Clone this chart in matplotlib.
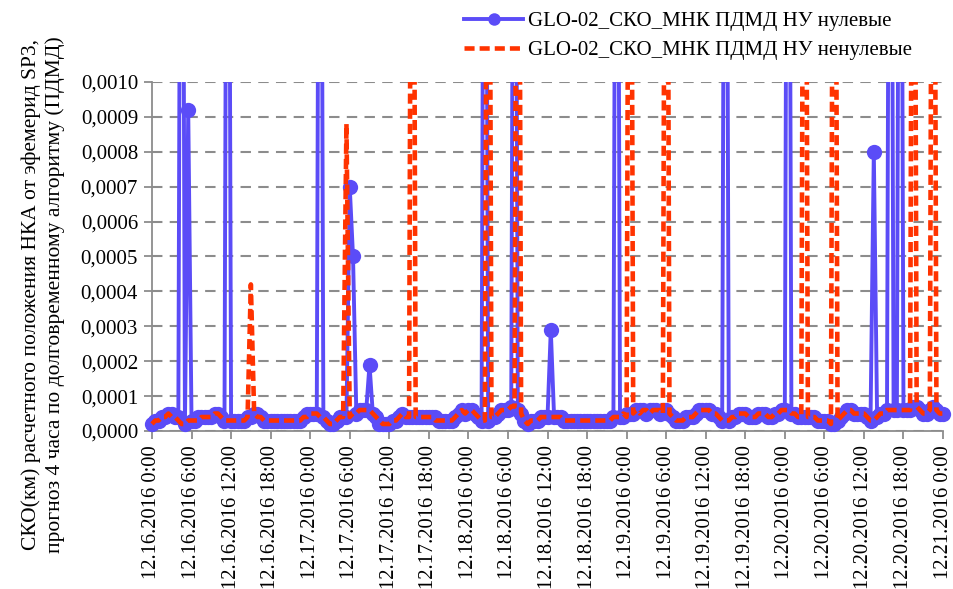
import numpy as np
import matplotlib
matplotlib.use("Agg")
import matplotlib.pyplot as plt
from matplotlib.patches import Rectangle

plt.rcParams['font.family'] = 'serif'
plt.rcParams['font.serif'] = ['Liberation Serif', 'DejaVu Serif']

# values in units of 1e-5 km, one point every 30 minutes starting 12.16.2016 0:00
# (values above 100 run off the top of the chart)
blue_e5 = [
    2, 3, 3, 4, 4, 5, 5, 4, 4, 300, 2, 92,
    3, 3, 4, 4, 4, 4, 4, 5, 5, 4, 3, 300,
    3, 3, 3, 3, 3, 4, 4, 5, 5, 4, 3, 3,
    3, 3, 3, 3, 3, 3, 3, 3, 3, 3, 4, 5,
    5, 5, 5, 300, 4, 3, 2, 2, 3, 4, 4, 4,
    70, 50, 5, 6, 6, 6, 19, 5, 4, 2, 2, 2,
    2, 3, 3, 4, 5, 4, 4, 4, 4, 4, 4, 4,
    4, 4, 4, 3, 3, 3, 3, 3, 4, 5, 6, 5,
    6, 6, 5, 4, 3, 300, 3, 4, 4, 5, 6, 6,
    6, 7, 300, 6, 5, 3, 2, 3, 3, 3, 4, 4,
    4, 29, 4, 4, 4, 3, 3, 3, 3, 3, 3, 3,
    3, 3, 3, 3, 3, 3, 3, 3, 4, 300, 4, 4,
    5, 5, 5, 6, 6, 6, 5, 6, 6, 6, 5, 6,
    6, 5, 4, 3, 3, 3, 4, 4, 4, 5, 6, 6,
    6, 6, 5, 5, 4, 3, 300, 3, 4, 4, 5, 5,
    5, 4, 4, 4, 5, 5, 5, 4, 4, 5, 5, 6,
    6, 300, 5, 5, 4, 4, 4, 4, 4, 4, 3, 3,
    3, 3, 2, 2, 3, 4, 5, 6, 6, 5, 5, 5,
    5, 4, 3, 80, 4, 5, 5, 6, 300, 6, 6, 300,
    6, 6, 6, 7, 7, 6, 5, 5, 6, 7, 6, 5,
    5,
]
red_e5 = [
    2, 3, 3, 4, 4, 5, 4, 4, 3, 2, 2, 3,
    3, 3, 3, 4, 4, 4, 4, 5, 5, 4, 3, 3,
    3, 3, 3, 3, 3, 4, 42, 5, 4, 4, 3, 3,
    3, 3, 3, 3, 3, 3, 3, 3, 3, 3, 4, 4,
    5, 5, 5, 4, 4, 3, 2, 2, 3, 4, 4, 88,
    4, 5, 5, 6, 6, 6, 6, 5, 4, 3, 2, 2,
    2, 3, 3, 4, 5, 4, 4, 300, 4, 4, 4, 4,
    4, 4, 3, 3, 3, 3, 3, 3, 4, 5, 6, 5,
    6, 6, 5, 4, 3, 3, 300, 4, 4, 5, 6, 6,
    6, 7, 7, 300, 5, 3, 2, 3, 3, 3, 4, 4,
    4, 4, 4, 4, 4, 3, 3, 3, 3, 3, 3, 3,
    3, 3, 3, 3, 3, 3, 3, 3, 4, 4, 4, 5,
    4, 300, 5, 6, 5, 6, 6, 5, 6, 6, 6, 5,
    300, 5, 4, 3, 3, 3, 4, 4, 4, 5, 6, 6,
    6, 6, 5, 5, 4, 3, 3, 3, 4, 4, 5, 5,
    5, 4, 4, 4, 5, 5, 5, 4, 4, 5, 5, 6,
    6, 6, 5, 5, 4, 4, 300, 4, 4, 4, 3, 3,
    3, 3, 2, 300, 3, 4, 5, 6, 6, 5, 5, 5,
    5, 4, 3, 3, 4, 5, 5, 6, 6, 6, 6, 6,
    6, 6, 6, 300, 7, 6, 5, 5, 6, 300, 6, 5,
    5,
]

tick_labels = [
    "12.16.2016 0:00", "12.16.2016 6:00", "12.16.2016 12:00", "12.16.2016 18:00",
    "12.17.2016 0:00", "12.17.2016 6:00", "12.17.2016 12:00", "12.17.2016 18:00",
    "12.18.2016 0:00", "12.18.2016 6:00", "12.18.2016 12:00", "12.18.2016 18:00",
    "12.19.2016 0:00", "12.19.2016 6:00", "12.19.2016 12:00", "12.19.2016 18:00",
    "12.20.2016 0:00", "12.20.2016 6:00", "12.20.2016 12:00", "12.20.2016 18:00",
    "12.21.2016 0:00",
]
y_ticks = [0.0, 0.0001, 0.0002, 0.0003, 0.0004, 0.0005,
           0.0006, 0.0007, 0.0008, 0.0009, 0.0010]

label_blue = "GLO-02_СКО_МНК ПДМД НУ нулевые"
label_red = "GLO-02_СКО_МНК ПДМД НУ ненулевые"
y_label = ("СКО(км) расчетного положения НКА от эфемерид SP3,\n"
           "прогноз 4 часа по долговременному алгоритму (ПДМД)")

BLUE = "#5B4CF7"
RED = "#FF3300"
GREY = "#8C8C8C"


def main():
    hours = np.arange(len(blue_e5)) * 0.5
    blue = np.array(blue_e5) * 1e-5
    red = np.array(red_e5) * 1e-5

    fig = plt.figure(figsize=(9.54, 5.89), dpi=100)
    ax = fig.add_axes([0.1593, 0.2683, 0.9885 - 0.1593, 0.8608 - 0.2683])

    # let markers spill past the left/right edges, but cut the spikes at the top
    clip = Rectangle((-0.02, -0.06), 1.04, 1.06, transform=ax.transAxes,
                     facecolor="none", edgecolor="none")
    ax.add_patch(clip)

    l1, = ax.plot(hours, blue, color=BLUE, lw=2.8, marker="o", ms=11,
                  mew=0, label=label_blue, zorder=3)
    l2, = ax.plot(hours, red, color=RED, lw=3.3, ls=(0, (2.2, 1.1)),
                  label=label_red, zorder=4)
    for ln in (l1, l2):
        ln.set_clip_path(clip)

    ax.set_xlim(0, 120)
    ax.set_ylim(0, 0.0010)
    ax.set_xticks(np.arange(0, 121, 6))
    ax.set_xticklabels(tick_labels, rotation=90, fontsize=14.8)
    ax.set_yticks(y_ticks)
    ax.set_yticklabels([f"{v:.4f}".replace(".", ",") for v in y_ticks], fontsize=15)

    ax.yaxis.grid(True, color=GREY, lw=1.5, ls=(0, (5, 3.5)))
    ax.set_axisbelow(True)
    for s in ("top", "right"):
        ax.spines[s].set_visible(False)
    for s in ("left", "bottom"):
        ax.spines[s].set_color(GREY)
        ax.spines[s].set_linewidth(1.3)
    ax.tick_params(axis="both", color=GREY, width=1.3, length=6, pad=4)

    fig.text(0.045, 0.5, y_label, rotation=90, ha="center", va="center",
             fontsize=15.5, linespacing=1.25)

    leg = fig.legend(handles=[l1, l2], loc="upper left", bbox_to_anchor=(0.478, 0.995),
                     frameon=False, fontsize=15, handlelength=2.8, handletextpad=0.25,
                     labelspacing=0.45, borderaxespad=0)
    leg.legend_handles[0].set_markersize(9)

    fig.savefig("out.png", dpi=100)


if __name__ == "__main__":
    main()
